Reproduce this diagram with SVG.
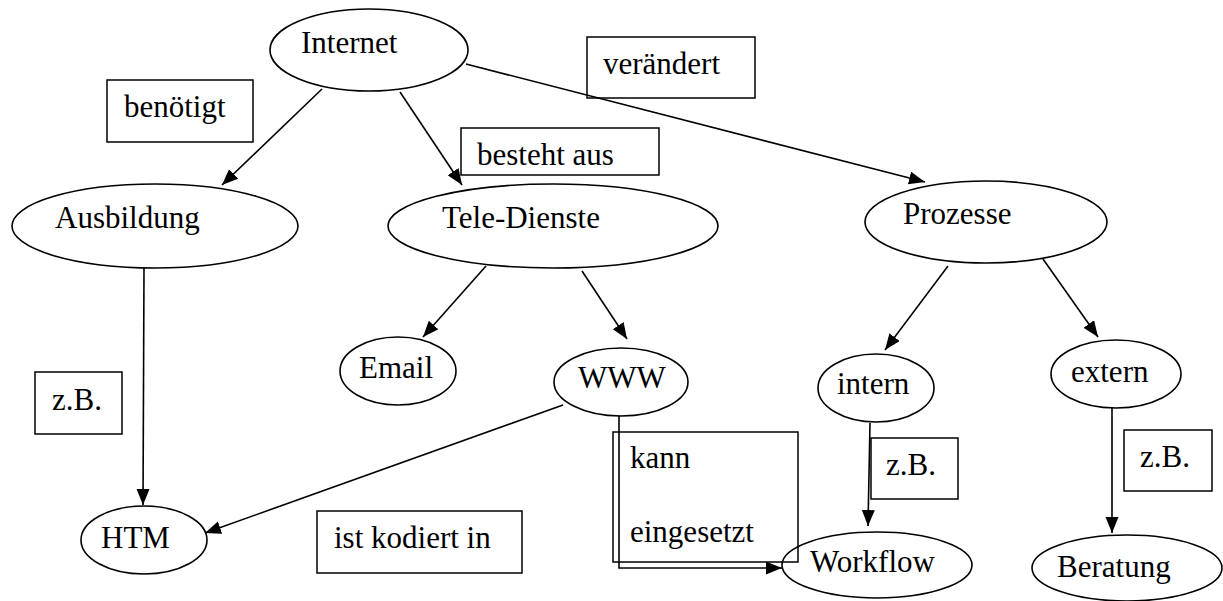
<svg xmlns="http://www.w3.org/2000/svg" width="1223" height="601" viewBox="0 0 1223 601">
<style>
.n{fill:none;stroke:#000;stroke-width:1.6}
.b{fill:none;stroke:#000;stroke-width:1.5}
.c{fill:none;stroke:#000;stroke-width:1.6;marker-end:url(#ah)}
text{font-family:'Liberation Serif','Times New Roman',serif;font-size:31px;fill:#000}
</style>
<defs>
<marker id="ah" markerUnits="userSpaceOnUse" markerWidth="18" markerHeight="14" refX="16" refY="6.5" orient="auto">
<path d="M0,0 L16,6.5 L0,13 z" fill="#000"/>
</marker>
</defs>
<rect width="1223" height="601" fill="#fff"/>
<g id="connectors">
<line class="c" x1="322" y1="89" x2="222" y2="185"/>
<line class="c" x1="400" y1="92" x2="462" y2="185"/>
<line class="c" x1="466" y1="64" x2="925" y2="182"/>
<line class="c" x1="144" y1="268" x2="143" y2="505"/>
<line class="c" x1="486" y1="266" x2="423" y2="337"/>
<line class="c" x1="582" y1="271" x2="627" y2="339"/>
<line class="c" x1="563" y1="405" x2="205" y2="533"/>
<polyline class="c" points="619,416 619,568 782,568"/>
<line class="c" x1="948" y1="266" x2="885" y2="350"/>
<line class="c" x1="1043" y1="259" x2="1098" y2="337"/>
<line class="c" x1="870" y1="423" x2="868" y2="526"/>
<line class="c" x1="1112" y1="408" x2="1112" y2="533"/>
</g>
<g id="lbl-benoetigt"><rect class="b" x="107" y="80" width="146" height="62"/><text x="124" y="117">benötigt</text></g>
<g id="lbl-veraendert"><rect class="b" x="587" y="37" width="168" height="61"/><text x="603" y="74">verändert</text></g>
<g id="lbl-besteht"><rect class="b" x="461" y="128" width="198" height="47"/><text x="477" y="165">besteht aus</text></g>
<g id="lbl-zb1"><rect class="b" x="35" y="372" width="87" height="62"/><text x="52" y="410">z.B.</text></g>
<g id="lbl-kodiert"><rect class="b" x="317" y="511" width="205" height="62"/><text x="334" y="548">ist kodiert in</text></g>
<g id="lbl-kann"><rect class="b" x="613" y="432" width="185" height="130"/><text x="630" y="468">kann</text><text x="630" y="542">eingesetzt</text></g>
<g id="lbl-zb2"><rect class="b" x="871" y="438" width="87" height="61"/><text x="886" y="475">z.B.</text></g>
<g id="lbl-zb3"><rect class="b" x="1124" y="430" width="88" height="61"/><text x="1140" y="467">z.B.</text></g>
<g id="internet"><ellipse class="n" cx="369" cy="50" rx="99" ry="41"/><text x="301" y="53">Internet</text></g>
<g id="ausbildung"><ellipse class="n" cx="155" cy="226" rx="143" ry="42"/><text x="55" y="228">Ausbildung</text></g>
<g id="teledienste"><ellipse class="n" cx="553" cy="226" rx="165" ry="42"/><text x="442" y="228">Tele-Dienste</text></g>
<g id="prozesse"><ellipse class="n" cx="986" cy="222" rx="121" ry="41"/><text x="903" y="224">Prozesse</text></g>
<g id="email"><ellipse class="n" cx="398" cy="371" rx="58" ry="34"/><text x="359" y="378">Email</text></g>
<g id="www"><ellipse class="n" cx="621" cy="382" rx="67" ry="34"/><text x="578" y="388">WWW</text></g>
<g id="intern"><ellipse class="n" cx="876" cy="388" rx="58" ry="34"/><text x="837" y="394">intern</text></g>
<g id="extern"><ellipse class="n" cx="1116" cy="374" rx="65" ry="34"/><text x="1071" y="382">extern</text></g>
<g id="htm"><ellipse class="n" cx="144" cy="540" rx="63" ry="34"/><text x="101" y="548">HTM</text></g>
<g id="workflow"><ellipse class="n" cx="877" cy="565" rx="95" ry="33"/><text x="810" y="572">Workflow</text></g>
<g id="beratung"><ellipse class="n" cx="1127" cy="568" rx="95" ry="33"/><text x="1057" y="577">Beratung</text></g>
</svg>
